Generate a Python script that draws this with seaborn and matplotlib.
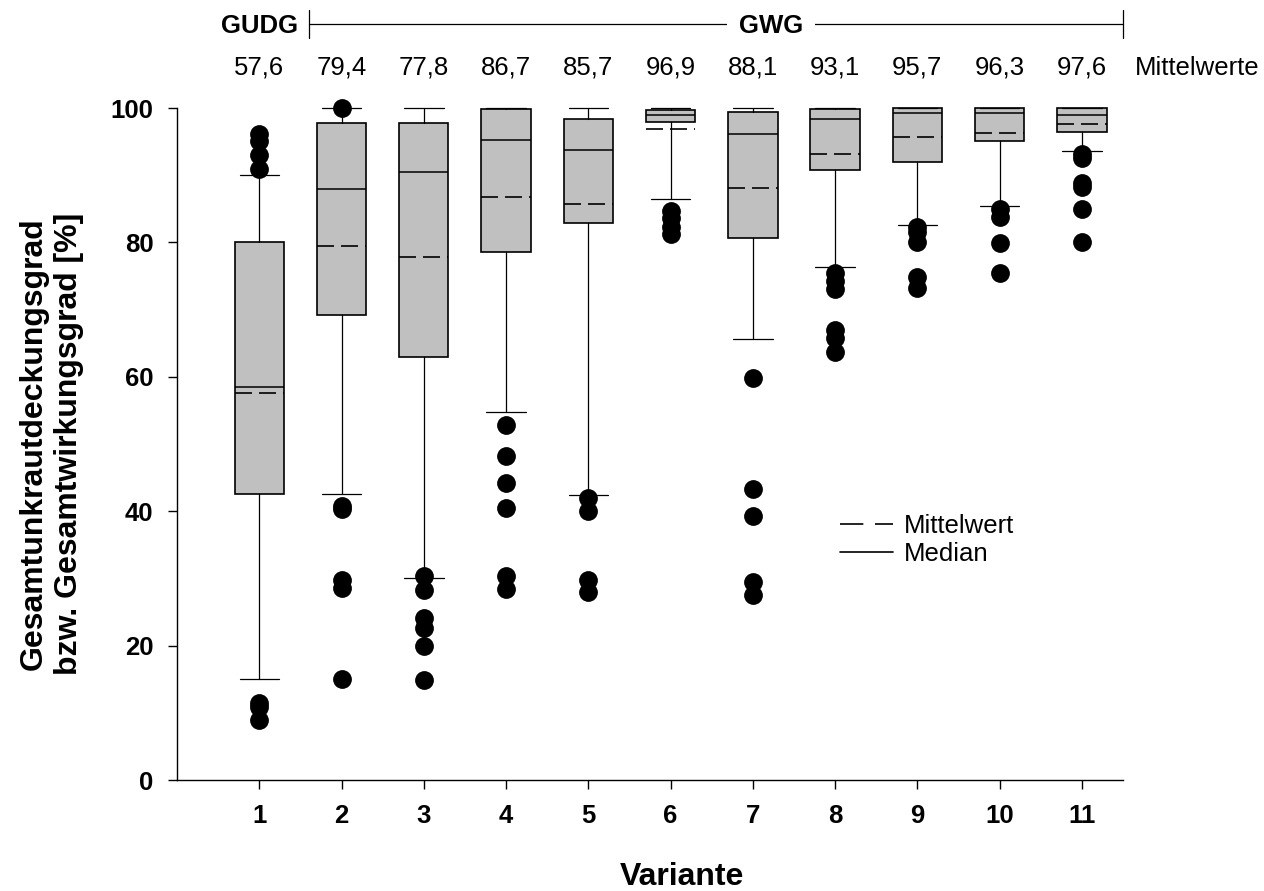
import matplotlib
matplotlib.use("Agg")
import matplotlib.pyplot as plt
import matplotlib.transforms as mtransforms
from matplotlib.lines import Line2D
import seaborn as sns

# ---------------- data ----------------
variants = [1, 2, 3, 4, 5, 6, 7, 8, 9, 10, 11]
whislo = [15.0, 42.5, 30.1, 54.7, 42.4, 86.4, 65.6, 76.4, 82.6, 85.4, 93.6]
q1 = [42.5, 69.2, 63.0, 78.6, 82.9, 97.9, 80.7, 90.7, 91.9, 95.1, 96.4]
median = [58.5, 87.9, 90.5, 95.3, 93.8, 99.0, 96.2, 98.4, 99.2, 99.2, 99.0]
q3 = [80.0, 97.8, 97.8, 99.8, 98.3, 99.7, 99.4, 99.9, 100.0, 100.0, 100.0]
whishi = [90.0, 100.0, 100.0, 100.0, 100.0, 100.0, 100.0, 100.0, 100.0, 100.0, 100.0]
means = [57.6, 79.4, 77.8, 86.7, 85.7, 96.9, 88.1, 93.1, 95.7, 96.3, 97.6]
fliers = [
    [96.2, 95.1, 93.0, 90.9, 11.5, 10.9, 9.0],
    [100.0, 40.8, 40.3, 29.8, 28.5, 15.0],
    [30.3, 28.3, 24.1, 22.6, 20.0, 14.9],
    [52.9, 48.2, 44.2, 40.5, 30.3, 28.4],
    [41.9, 40.0, 29.8, 28.0],
    [84.6, 83.6, 82.3, 81.2],
    [59.8, 43.3, 39.3, 29.4, 27.6],
    [75.4, 74.2, 73.0, 67.0, 65.7, 63.7],
    [82.3, 81.6, 80.0, 74.9, 73.2],
    [85.0, 83.8, 79.9, 75.5],
    [93.2, 92.5, 88.9, 88.2, 85.0, 80.0],
]
yticks = [0, 20, 40, 60, 80, 100]
group_labels = ["GUDG", "GWG"]
legend_labels = ["Mittelwert", "Median"]

# ---------------- style ----------------
sns.set_theme(style="ticks")
plt.rcParams["font.family"] = ["Liberation Sans", "DejaVu Sans"]
for k in ["text.color", "axes.labelcolor", "xtick.color", "ytick.color", "axes.edgecolor"]:
    plt.rcParams[k] = "black"

W, H = 1264, 891
fig = plt.figure(figsize=(W / 100, H / 100), dpi=100)
ax = fig.add_axes([177 / W, (H - 780) / H, (1123 - 177) / W, (780 - 108) / H])

stats = []
for i in range(len(variants)):
    stats.append(dict(whislo=whislo[i], q1=q1[i], med=median[i], q3=q3[i],
                      whishi=whishi[i], mean=means[i], fliers=fliers[i],
                      label=str(variants[i])))

art = ax.bxp(stats, positions=variants, widths=0.6, capwidths=0.48,
             patch_artist=True, showmeans=True, meanline=True,
             boxprops=dict(facecolor="#c0c0c0", edgecolor="black", linewidth=1.2),
             medianprops=dict(color="black", linewidth=1.1),
             meanprops=dict(color="black", linewidth=1.2, linestyle=(0, (10.2, 4.2))),
             whiskerprops=dict(color="black", linewidth=0.9),
             capprops=dict(color="black", linewidth=0.9),
             flierprops=dict(marker="o", markerfacecolor="black",
                             markeredgecolor="black", markersize=12.5, linestyle="none"))
for f in art["fliers"]:
    f.set_clip_on(False)
for c in art["caps"]:
    c.set_clip_on(False)
for b in art["boxes"]:
    b.set_clip_on(False)

ax.set_xlim(0, 11.5)
ax.set_ylim(0, 100)
ax.set_yticks(yticks)
ax.set_xticks(variants)
ax.set_xticklabels([str(v) for v in variants])
sns.despine(ax=ax)
for s in ["left", "bottom"]:
    ax.spines[s].set_color("black")
    ax.spines[s].set_linewidth(1.0)
ax.tick_params(axis="both", direction="out", length=6.5, width=1.0, color="black",
               labelsize=18.5, pad=10.5, labelcolor="black")
for lab in ax.get_xticklabels() + ax.get_yticklabels():
    lab.set_fontweight("bold")
ax.grid(False)
ax.set_facecolor("white")
ax.set_xlabel("")
ax.set_ylabel("")

# axis titles
fig.text(682 / W, 1 - 885 / H, "Variante", ha="center", va="baseline",
         fontsize=23, fontweight="bold")
fig.text(51.5 / W, 1 - 444 / H, "Gesamtunkrautdeckungsgrad\nbzw. Gesamtwirkungsgrad [%]",
         rotation=90, ha="center", va="center", multialignment="center",
         fontsize=23, fontweight="bold", linespacing=1.2)

# top annotations
bt = mtransforms.blended_transform_factory(ax.transData, fig.transFigure)
for v, m in zip(variants, means):
    ax.text(v, 1 - 75 / H, f"{m:.1f}".replace(".", ","), transform=bt,
            ha="center", va="baseline", fontsize=18.5)
ax.text(11.65, 1 - 75 / H, "Mittelwerte", transform=bt, ha="left", va="baseline",
        fontsize=18.5)

y_line = 1 - 24 / H
ax.add_line(Line2D([1.6, 11.5], [y_line, y_line], transform=bt, color="black",
                   linewidth=0.9, clip_on=False))
for xx in [1.6, 11.5]:
    ax.add_line(Line2D([xx, xx], [1 - 10 / H, 1 - 38 / H], transform=bt, color="black",
                       linewidth=0.9, clip_on=False))
ax.text(1.0, 1 - 33 / H, group_labels[0], transform=bt, ha="center", va="baseline",
        fontsize=18.5, fontweight="bold")
ax.text(7.22, 1 - 33 / H, group_labels[1], transform=bt, ha="center", va="baseline",
        fontsize=18.5, fontweight="bold",
        bbox=dict(boxstyle="square,pad=0.45", facecolor="white", edgecolor="none"))

# legend
handles = [Line2D([], [], color="black", linewidth=1.2, linestyle=(0, (14, 7))),
           Line2D([], [], color="black", linewidth=1.2)]
ax.legend(handles, legend_labels, loc="upper left",
          bbox_to_anchor=(840 / W, 1 - 514 / H), bbox_transform=fig.transFigure,
          frameon=False, fontsize=18.5, handlelength=2.05, handletextpad=0.45,
          labelspacing=0.17, borderpad=0, borderaxespad=0)

fig.savefig("out.png", dpi=100, facecolor="white")
